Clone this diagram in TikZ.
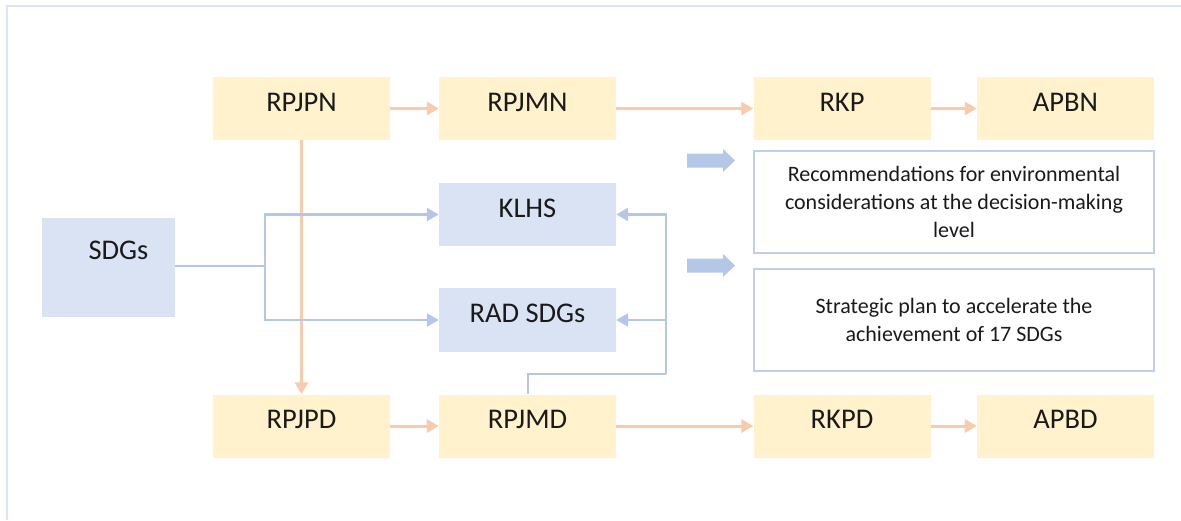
\documentclass[tikz,border=0pt]{standalone}
\usepackage{fontspec}
\setmainfont{Carlito}
\usetikzlibrary{arrows.meta}
\definecolor{ybox}{HTML}{FFF2CC}
\definecolor{bbox}{HTML}{DAE3F3}
\definecolor{bline}{HTML}{B4C7E7}
\definecolor{oline}{HTML}{F8CBAD}
\definecolor{frameclr}{HTML}{DDE4F4}
\definecolor{txt}{HTML}{1A1A1A}
\tikzset{
  plan/.style={fill=ybox, draw=none, minimum width=177pt, minimum height=63pt,
    inner sep=0pt, font=\fontsize{28.5pt}{34pt}\selectfont, text=txt,
    text height=18.5pt, text depth=13pt},
  tool/.style={plan, fill=bbox},
  note/.style={draw=bline!85, line width=2.4pt, fill=white, minimum width=400pt,
    minimum height=102pt, inner sep=0pt, align=center, text=txt,
    font=\fontsize{22pt}{28pt}\selectfont},
  oarrow/.style={draw=oline, line width=3pt,
    -{Triangle[length=12pt,width=13pt]}},
  barrow/.style={draw=bline, line width=2.6pt,
    -{Triangle[length=12pt,width=13pt]}},
  bline/.style={draw=bline, line width=2.6pt},
  framestyle/.style={draw=frameclr, line width=1.8pt},
  blockarrow/.style={fill=bline, draw=none}
}
\begin{document}
\begin{tikzpicture}[x=1pt, y=-1pt]
\useasboundingbox (0,0) rectangle (1181,520);
% page frame
\draw[framestyle] (7,520) -- (7,6) -- (1181,6);

% national planning chain
\node[plan] (rpjpn) at (301.5,108.5) {RPJPN};
\node[plan] (rpjmn) at (527.5,108.5) {RPJMN};
\node[plan] (rkp)   at (842,108.5)   {RKP};
\node[plan] (apbn)  at (1065.5,108.5){APBN};

% regional planning chain
\node[plan] (rpjpd) at (301.5,426) {RPJPD};
\node[plan] (rpjmd) at (527.5,426) {RPJMD};
\node[plan] (rkpd)  at (842,426)   {RKPD};
\node[plan] (apbd)  at (1065.5,426){APBD};

% instruments
\node[tool, minimum width=133pt, minimum height=99pt, text depth=34pt]
  (sdgs) at (108.5,267) {\hspace*{20pt}SDGs};
\node[tool, minimum height=63pt] (klhs) at (527.5,214.5) {KLHS};
\node[tool, minimum height=64pt] (rad)  at (527.5,320)   {RAD SDGs};

% outcome boxes
\node[note] (rec) at (954,202)
  {Recommendations for environmental\\considerations at the decision-making\\level};
\node[note] (strat) at (954,320)
  {Strategic plan to accelerate the\\achievement of 17 SDGs};

% block arrows towards the outcome boxes
\fill[blockarrow] (687,153.5) -- (723,153.5) -- (723,149) -- (735,160.5)
  -- (723,172) -- (723,167.5) -- (687,167.5) -- cycle;
\fill[blockarrow] (687,258.5) -- (723,258.5) -- (723,254) -- (735,265.5)
  -- (723,277) -- (723,272.5) -- (687,272.5) -- cycle;

% orange flow
\draw[oarrow] (rpjpn) -- (rpjmn);
\draw[oarrow] (rpjmn) -- (rkp);
\draw[oarrow] (rkp) -- (apbn);
\draw[oarrow] (rpjpd) -- (rpjmd);
\draw[oarrow] (rpjmd) -- (rkpd);
\draw[oarrow] (rkpd) -- (apbd);
\draw[oarrow] (rpjpn.south) -- (rpjpd.north);

% SDGs feeding KLHS and RAD SDGs
\coordinate (split) at (265,266);
\draw[bline] (sdgs.east |- split) -- (split);
\draw[barrow] (split) |- (klhs.west);
\draw[barrow] (split) |- (rad.west);

% RPJMD feeding back to KLHS and RAD SDGs
\coordinate (up) at (528,374);
\coordinate (riser) at (666,374);
\draw[bline] (rpjmd.north -| up) -- (up) -- (riser);
\draw[barrow] (riser) |- (klhs.east);
\draw[barrow] (riser |- rad.east) -- (rad.east);
\end{tikzpicture}
\end{document}
